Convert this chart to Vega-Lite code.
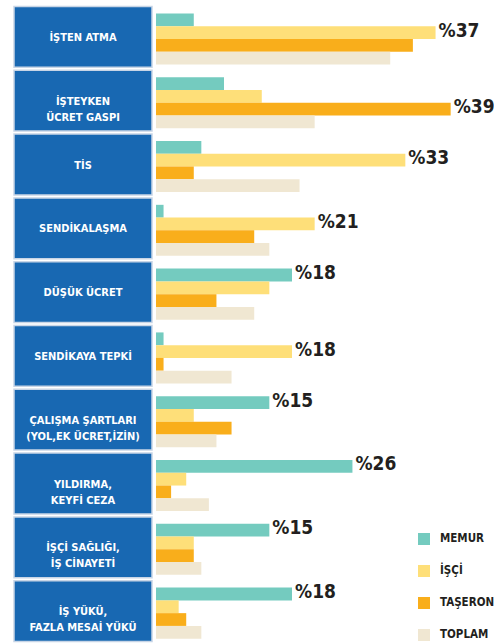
{
  "$schema": "https://vega.github.io/schema/vega-lite/v6.json",
  "padding": {"left": 13, "top": 5, "right": 0, "bottom": 0},
  "background": "white",
  "spacing": 3,
  "config": {"view": {"stroke": null}},
  "datasets": {
    "cats": [
      {"cat": "İŞTEN ATMA", "txt": "İŞTEN ATMA"},
      {"cat": "İŞTEYKEN ÜCRET GASPI", "txt": "İŞTEYKEN\nÜCRET GASPI"},
      {"cat": "TİS", "txt": "TİS"},
      {"cat": "SENDİKALAŞMA", "txt": "SENDİKALAŞMA"},
      {"cat": "DÜŞÜK ÜCRET", "txt": "DÜŞÜK ÜCRET"},
      {"cat": "SENDİKAYA TEPKİ", "txt": "SENDİKAYA TEPKİ"},
      {"cat": "ÇALIŞMA ŞARTLARI (YOL,EK ÜCRET,İZİN)", "txt": "ÇALIŞMA ŞARTLARI\n(YOL,EK ÜCRET,İZİN)"},
      {"cat": "YILDIRMA, KEYFİ CEZA", "txt": "YILDIRMA,\nKEYFİ CEZA"},
      {"cat": "İŞÇİ SAĞLIĞI, İŞ CİNAYETİ", "txt": "İŞÇİ SAĞLIĞI,\nİŞ CİNAYETİ"},
      {"cat": "İŞ YÜKÜ, FAZLA MESAİ YÜKÜ", "txt": "İŞ YÜKÜ,\nFAZLA MESAİ YÜKÜ"}
    ],
    "bars": [
      {"cat": "İŞTEN ATMA", "series": "MEMUR", "value": 5, "label": ""},
      {"cat": "İŞTEN ATMA", "series": "İŞÇİ", "value": 37, "label": "%37"},
      {"cat": "İŞTEN ATMA", "series": "TAŞERON", "value": 34, "label": ""},
      {"cat": "İŞTEN ATMA", "series": "TOPLAM", "value": 31, "label": ""},
      {"cat": "İŞTEYKEN ÜCRET GASPI", "series": "MEMUR", "value": 9, "label": ""},
      {"cat": "İŞTEYKEN ÜCRET GASPI", "series": "İŞÇİ", "value": 14, "label": ""},
      {"cat": "İŞTEYKEN ÜCRET GASPI", "series": "TAŞERON", "value": 39, "label": "%39"},
      {"cat": "İŞTEYKEN ÜCRET GASPI", "series": "TOPLAM", "value": 21, "label": ""},
      {"cat": "TİS", "series": "MEMUR", "value": 6, "label": ""},
      {"cat": "TİS", "series": "İŞÇİ", "value": 33, "label": "%33"},
      {"cat": "TİS", "series": "TAŞERON", "value": 5, "label": ""},
      {"cat": "TİS", "series": "TOPLAM", "value": 19, "label": ""},
      {"cat": "SENDİKALAŞMA", "series": "MEMUR", "value": 1, "label": ""},
      {"cat": "SENDİKALAŞMA", "series": "İŞÇİ", "value": 21, "label": "%21"},
      {"cat": "SENDİKALAŞMA", "series": "TAŞERON", "value": 13, "label": ""},
      {"cat": "SENDİKALAŞMA", "series": "TOPLAM", "value": 15, "label": ""},
      {"cat": "DÜŞÜK ÜCRET", "series": "MEMUR", "value": 18, "label": "%18"},
      {"cat": "DÜŞÜK ÜCRET", "series": "İŞÇİ", "value": 15, "label": ""},
      {"cat": "DÜŞÜK ÜCRET", "series": "TAŞERON", "value": 8, "label": ""},
      {"cat": "DÜŞÜK ÜCRET", "series": "TOPLAM", "value": 13, "label": ""},
      {"cat": "SENDİKAYA TEPKİ", "series": "MEMUR", "value": 1, "label": ""},
      {"cat": "SENDİKAYA TEPKİ", "series": "İŞÇİ", "value": 18, "label": "%18"},
      {"cat": "SENDİKAYA TEPKİ", "series": "TAŞERON", "value": 1, "label": ""},
      {"cat": "SENDİKAYA TEPKİ", "series": "TOPLAM", "value": 10, "label": ""},
      {"cat": "ÇALIŞMA ŞARTLARI (YOL,EK ÜCRET,İZİN)", "series": "MEMUR", "value": 15, "label": "%15"},
      {"cat": "ÇALIŞMA ŞARTLARI (YOL,EK ÜCRET,İZİN)", "series": "İŞÇİ", "value": 5, "label": ""},
      {"cat": "ÇALIŞMA ŞARTLARI (YOL,EK ÜCRET,İZİN)", "series": "TAŞERON", "value": 10, "label": ""},
      {"cat": "ÇALIŞMA ŞARTLARI (YOL,EK ÜCRET,İZİN)", "series": "TOPLAM", "value": 8, "label": ""},
      {"cat": "YILDIRMA, KEYFİ CEZA", "series": "MEMUR", "value": 26, "label": "%26"},
      {"cat": "YILDIRMA, KEYFİ CEZA", "series": "İŞÇİ", "value": 4, "label": ""},
      {"cat": "YILDIRMA, KEYFİ CEZA", "series": "TAŞERON", "value": 2, "label": ""},
      {"cat": "YILDIRMA, KEYFİ CEZA", "series": "TOPLAM", "value": 7, "label": ""},
      {"cat": "İŞÇİ SAĞLIĞI, İŞ CİNAYETİ", "series": "MEMUR", "value": 15, "label": "%15"},
      {"cat": "İŞÇİ SAĞLIĞI, İŞ CİNAYETİ", "series": "İŞÇİ", "value": 5, "label": ""},
      {"cat": "İŞÇİ SAĞLIĞI, İŞ CİNAYETİ", "series": "TAŞERON", "value": 5, "label": ""},
      {"cat": "İŞÇİ SAĞLIĞI, İŞ CİNAYETİ", "series": "TOPLAM", "value": 6, "label": ""},
      {"cat": "İŞ YÜKÜ, FAZLA MESAİ YÜKÜ", "series": "MEMUR", "value": 18, "label": "%18"},
      {"cat": "İŞ YÜKÜ, FAZLA MESAİ YÜKÜ", "series": "İŞÇİ", "value": 3, "label": ""},
      {"cat": "İŞ YÜKÜ, FAZLA MESAİ YÜKÜ", "series": "TAŞERON", "value": 4, "label": ""},
      {"cat": "İŞ YÜKÜ, FAZLA MESAİ YÜKÜ", "series": "TOPLAM", "value": 6, "label": ""}
    ]
  },
  "hconcat": [
    {
      "width": 138,
      "height": 638,
      "data": {"name": "cats"},
      "encoding": {
        "y": {"field": "cat", "type": "nominal", "sort": null, "axis": null,
              "scale": {"paddingInner": 0.047, "paddingOuter": 0.0235}}
      },
      "layer": [
        {
          "mark": {"type": "rect", "fill": "#1868B2", "stroke": "#c8d5e6", "strokeWidth": 1.5},
          "encoding": {
            "x": {"datum": 0, "type": "quantitative", "scale": {"domain": [0, 1]}, "axis": null},
            "x2": {"datum": 1}
          }
        },
        {
          "mark": {"type": "text", "fill": "white", "font": "DejaVu Sans Condensed, sans-serif",
                   "fontWeight": "bold", "fontSize": 11, "lineHeight": 16, "lineBreak": "\n",
                   "align": "center", "baseline": "middle", "dy": 1},
          "encoding": {
            "x": {"datum": 0.5, "type": "quantitative"},
            "text": {"field": "txt"}
          }
        }
      ]
    },
    {
      "width": 340,
      "height": 638,
      "data": {"name": "bars"},
      "encoding": {
        "y": {"field": "cat", "type": "nominal", "sort": null, "axis": null,
              "scale": {"paddingInner": 0.2, "paddingOuter": 0.1, "align": 0.66}},
        "yOffset": {"field": "series", "type": "nominal", "sort": ["MEMUR", "İŞÇİ", "TAŞERON", "TOPLAM"],
                    "scale": {"paddingInner": 0, "paddingOuter": 0}},
        "x": {"field": "value", "type": "quantitative", "scale": {"domain": [0, 45], "nice": false}, "axis": null}
      },
      "layer": [
        {
          "mark": {"type": "bar"},
          "encoding": {
            "color": {"field": "series", "type": "nominal", "sort": ["MEMUR", "İŞÇİ", "TAŞERON", "TOPLAM"],
                      "scale": {"domain": ["MEMUR", "İŞÇİ", "TAŞERON", "TOPLAM"],
                                "range": ["#74CBBF", "#FEDF79", "#F9AE1B", "#F0E7D2"]},
                      "legend": {"title": null, "orient": "none", "legendX": 404, "legendY": 528,
                                 "symbolType": "square", "symbolSize": 144, "symbolStrokeWidth": 0,
                                 "symbolOpacity": 1,
                                 "labelFont": "DejaVu Sans Condensed, sans-serif",
                                 "labelFontWeight": "bold", "labelFontSize": 11.5, "labelColor": "#231f20",
                                 "labelOffset": 10, "rowPadding": 20}}
          }
        },
        {
          "transform": [{"filter": "datum.label != ''"}],
          "mark": {"type": "text", "align": "left", "baseline": "middle", "dx": 3, "dy": -2,
                   "font": "DejaVu Sans Condensed, sans-serif",
                   "fontWeight": "bold", "fontSize": 19, "fill": "#231f20"},
          "encoding": {"text": {"field": "label"}}
        }
      ]
    }
  ]
}
